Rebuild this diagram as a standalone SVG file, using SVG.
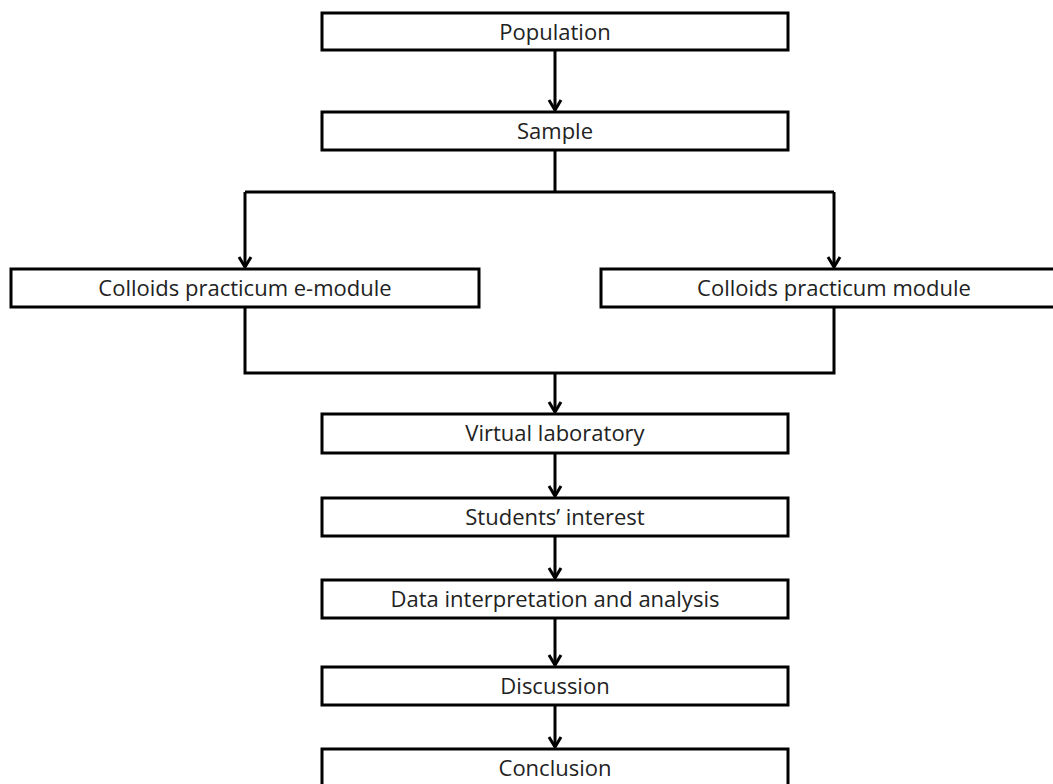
<svg xmlns="http://www.w3.org/2000/svg" width="1053" height="784" viewBox="0 0 1053 784">
<style>
.box{fill:#fff;stroke:#000;stroke-width:3}
.lbl{font-family:"Open Sans","Liberation Sans",sans-serif;font-size:22px;fill:#222;text-anchor:middle}
.con{fill:none;stroke:#000;stroke-width:3}
</style>
<defs>
<marker id="arr" markerUnits="userSpaceOnUse" markerWidth="16" markerHeight="16" viewBox="-12 -8 14 16" refX="0" refY="0" orient="auto">
<path d="M-10,-6 L0,0 L-10,6" fill="none" stroke="#000" stroke-width="3"/>
</marker>
</defs>
<rect width="1053" height="784" fill="#fff"/>
<g id="connectors">
<path class="con" d="M555,50 V110" marker-end="url(#arr)"/>
<path class="con" d="M555,150 V192"/>
<path class="con" d="M245,192 H834"/>
<path class="con" d="M245,192 V267" marker-end="url(#arr)"/>
<path class="con" d="M834,192 V267" marker-end="url(#arr)"/>
<path class="con" d="M245,307 V373 H834 V307"/>
<path class="con" d="M555,373 V412" marker-end="url(#arr)"/>
<path class="con" d="M555,453 V496" marker-end="url(#arr)"/>
<path class="con" d="M555,536 V578" marker-end="url(#arr)"/>
<path class="con" d="M555,618 V665" marker-end="url(#arr)"/>
<path class="con" d="M555,705 V747" marker-end="url(#arr)"/>
</g>
<g id="population"><rect class="box" x="322" y="13" width="466" height="37"/><text class="lbl" x="555" y="40">Population</text></g>
<g id="sample"><rect class="box" x="322" y="112" width="466" height="38"/><text class="lbl" x="555" y="139">Sample</text></g>
<g id="emodule"><rect class="box" x="11" y="269" width="468" height="38"/><text class="lbl" x="245" y="296">Colloids practicum e-module</text></g>
<g id="module"><rect class="box" x="601" y="269" width="470" height="38"/><text class="lbl" x="834" y="296">Colloids practicum module</text></g>
<g id="virtual-lab"><rect class="box" x="322" y="414" width="466" height="39"/><text class="lbl" x="555" y="441">Virtual laboratory</text></g>
<g id="interest"><rect class="box" x="322" y="498" width="466" height="38"/><text class="lbl" x="555" y="525">Students’ interest</text></g>
<g id="analysis"><rect class="box" x="322" y="580" width="466" height="38"/><text class="lbl" x="555" y="607">Data interpretation and analysis</text></g>
<g id="discussion"><rect class="box" x="322" y="667" width="466" height="38"/><text class="lbl" x="555" y="694">Discussion</text></g>
<g id="conclusion"><rect class="box" x="322" y="749" width="466" height="45"/><text class="lbl" x="555" y="776">Conclusion</text></g>
</svg>
